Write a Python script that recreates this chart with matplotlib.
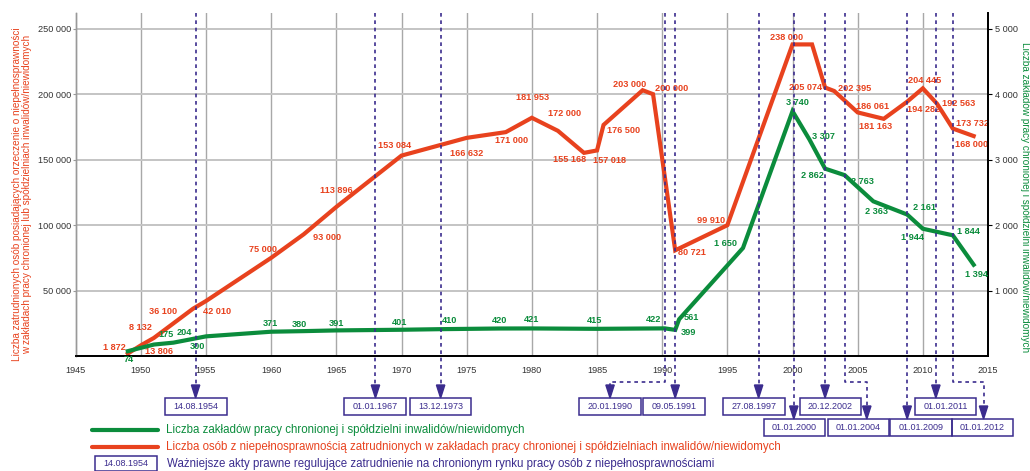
import matplotlib
matplotlib.use("Agg")
import matplotlib.pyplot as plt
from matplotlib.patches import Rectangle, Polygon
from matplotlib.lines import Line2D
from matplotlib.transforms import blended_transform_factory

plt.rcParams['font.family'] = ['Liberation Sans', 'DejaVu Sans']

RED = '#e8421e'
GREEN = '#0b8c3c'
BLUE = '#3b2c8e'
GRAY_TXT = '#333333'

# osoby zatrudnione (lewa os)
red_years = [1949, 1950, 1951, 1954, 1955, 1960, 1962.5, 1965, 1970, 1975, 1978, 1980, 1982,
             1984, 1985, 1985.5, 1988.5, 1989.3, 1991, 1995, 2000, 2001.5, 2002.5, 2003.2,
             2005, 2007, 2008.8, 2010, 2011.1, 2012.3, 2013.9]
red_values = [1872, 8132, 13806, 36100, 42010, 75000, 93000, 113896, 153084, 166632, 171000,
              181953, 172000, 155168, 157018, 176500, 203000, 200000, 80721, 99910, 238000,
              238000, 205074, 202395, 186061, 181163, 194282, 204445, 192563, 173732, 168000]
red_show = [True] * len(red_years)
red_show[21] = False

# zaklady pracy chronionej (prawa os)
green_years = [1949, 1951, 1952.5, 1955, 1960, 1962.5, 1965, 1970, 1973, 1977.5, 1980, 1985,
               1990.2, 1991, 1991.3, 1996.2, 2000, 2001.3, 2002.5, 2004, 2006.2, 2008.8,
               2010, 2012.3, 2013.9]
green_values = [74, 175, 204, 300, 371, 380, 391, 401, 410, 420, 421, 415, 422, 399, 561,
                1650, 3740, 3307, 2862, 2763, 2363, 2161, 1944, 1844, 1394]

# akty prawne
act_dates = ["14.08.1954", "01.01.1967", "13.12.1973", "20.01.1990", "09.05.1991",
             "27.08.1997", "01.01.2000", "20.12.2002", "01.01.2004", "01.01.2009",
             "01.01.2011", "01.01.2012"]
act_x = [1954.2, 1968.0, 1973.0, 1990.2, 1991.0, 1997.4, 2000.1, 2002.5, 2004.0, 2008.8,
         2011.0, 2012.35]

# layout of the labels / boxes (pixels)
red_off = [(-13, 6.5), (0, 17.5), (5.5, -13.5), (-29.5, -3), (11, -10.5), (-8, 8.5),
           (23, -3.5), (0, 16), (-7, 10.5), (0, -16), (6, -8), (1, 20), (7, 17.5),
           (-14.5, -7), (12, -10), (20, -6), (-13, 6), (19, 6), (17, -2), (-16.5, 5),
           (-6, 6.5), None, (-20, 0), (20, 3), (15, 6), (-8, -8), (16.5, -8), (1.5, 8),
           (21, 0), (20, 5), (-2.5, -8)]
green_off = [(0.5, -8), (12, 10), (11, 10), (-9, -10), (-1, 8), (-4, 7), (0, 7), (-1.5, 7.5),
             (9, 9), (0, 8), (0, 8.5), (-2, 8), (-11, 9), (13, -3), (12, 2), (-17, 4),
             (5, 9), (14, 3), (-13, -7), (17.5, -6), (3, -10), (17, 7), (-10, -8.5),
             (16, 4), (3, -10)]
act_arrow = [1954.2, 1968.0, 1973.0, 1986.0, 1991.0, 1997.4, 2000.1, 2002.5, 2005.7, 2008.8,
             2011.0, 2014.66]
act_box = [1954.22, 1967.97, 1973.0, 1986.0, 1990.9, 1997.06, 2000.14, 2002.9, 2005.05,
           2009.84, 2011.74, 2014.57]
act_row = [0, 0, 0, 0, 0, 0, 1, 0, 1, 1, 0, 1]


def fmt(v):
    return f"{int(v):,}".replace(",", " ")


W, H = 1030, 471
fig = plt.figure(figsize=(W / 100, H / 100), dpi=100, facecolor='w')
ax = fig.add_axes([75.7 / W, 1 - 356 / H, (988 - 75.7) / W, (356 - 13) / H])
ax2 = ax.twinx()

ax.set_xlim(1945, 2015)
ax.set_ylim(0, 262000)
ax2.set_ylim(0, 5240)

ax.set_xticks(range(1945, 2016, 5))
ax.set_yticks(range(50000, 250001, 50000))
ax.set_yticklabels([fmt(v) for v in range(50000, 250001, 50000)])
ax2.set_yticks(range(1000, 5001, 1000))
ax2.set_yticklabels([fmt(v) for v in range(1000, 5001, 1000)])

ax.tick_params(axis='x', length=0, pad=7, labelsize=6.6, labelcolor=GRAY_TXT)
ax.tick_params(axis='y', length=2, pad=1, labelsize=6.6, labelcolor=GRAY_TXT, color='#999999')
ax2.tick_params(axis='y', length=3, pad=2, labelsize=6.6, labelcolor=GRAY_TXT, color='black')

for a in (ax, ax2):
    a.spines['top'].set_visible(False)
    a.spines['left'].set_color('#999999')
    a.spines['left'].set_linewidth(1.0)
    a.spines['bottom'].set_color('black')
    a.spines['bottom'].set_linewidth(1.3)
    a.spines['right'].set_color('black')
    a.spines['right'].set_linewidth(1.3)

for x in range(1950, 2015, 5):
    ax.axvline(x, color='#a8a8a8', lw=1.0, zorder=0)
for y in range(50000, 250001, 50000):
    ax.axhline(y, color='#c4c4c4', lw=1.4, zorder=0)

# linie aktow prawnych
tr = blended_transform_factory(ax.transData, fig.transFigure)


def fy(px):
    return 1 - px / H


box_w = 61.5 / 13.03
for d, xl, xa, xb, row in zip(act_dates, act_x, act_arrow, act_box, act_row):
    tip = 398 if row == 0 else 419
    if abs(xa - xl) > 0.01:
        xs = [xl, xl, xa, xa]
        ys = [fy(13), fy(381.7), fy(381.7), fy(tip - 12)]
    else:
        xs = [xl, xl]
        ys = [fy(13), fy(tip - 12)]
    fig.add_artist(Line2D(xs, ys, transform=tr, color=BLUE, lw=1.2,
                          linestyle=(0, (2.2, 2.2)), zorder=2))
    fig.add_artist(Polygon([(xa - 0.32, fy(tip - 13)), (xa + 0.32, fy(tip - 13)), (xa, fy(tip))],
                           closed=True, transform=tr, color=BLUE, zorder=2))
    fig.add_artist(Rectangle((xb - box_w / 2, fy(tip + 17)), box_w, 17 / H, transform=tr,
                             fill=False, edgecolor=BLUE, lw=1.1))
    fig.text(xb, fy(tip + 8.5), d, transform=tr, ha='center', va='center',
             fontsize=6.5, color=BLUE)

# serie
ax.plot(red_years, red_values, color=RED, lw=3.0, solid_joinstyle='miter', zorder=4)
ax2.plot(green_years, green_values, color=GREEN, lw=3.0, solid_joinstyle='miter', zorder=4)

for x, v, off, show in zip(red_years, red_values, red_off, red_show):
    if show:
        ax.annotate(fmt(v), (x, v), xytext=off, textcoords='offset pixels', ha='center',
                    va='center', fontsize=6.6, fontweight='bold', color=RED, zorder=5)
for x, v, off in zip(green_years, green_values, green_off):
    ax2.annotate(fmt(v), (x, v), xytext=off, textcoords='offset pixels', ha='center',
                 va='center', fontsize=6.6, fontweight='bold', color=GREEN, zorder=5)

# opisy osi
fig.text(22 / W, fy(194),
         "Liczba zatrudnionych osób posiadających orzeczenie o niepełnosprawności\n"
         "w zakładach pracy chronionej lub spółdzielniach inwalidów/niewidomych",
         rotation=90, ha='center', va='center', multialignment='center',
         fontsize=7.2, color=RED, linespacing=1.1)
fig.text(1025 / W, fy(197),
         "Liczba zakładów pracy chronionej i spółdzielni inwalidów/niewidomych",
         rotation=270, ha='center', va='center', fontsize=7.2, color=GREEN)

# legenda
fig.add_artist(Line2D([91.7 / W, 158.3 / W], [fy(430), fy(430)], color=GREEN, lw=3,
                      solid_capstyle='round'))
fig.text(165.7 / W, fy(430), "Liczba zakładów pracy chronionej i spółdzielni inwalidów/niewidomych",
         ha='left', va='center', fontsize=8.3, color=GREEN)
fig.add_artist(Line2D([91.7 / W, 158.3 / W], [fy(446.7), fy(446.7)], color=RED, lw=3,
                      solid_capstyle='round'))
fig.text(165.7 / W, fy(446.7),
         "Liczba osób z niepełnosprawnością zatrudnionych w zakładach pracy chronionej "
         "i spółdzielniach inwalidów/niewidomych",
         ha='left', va='center', fontsize=8.3, color=RED)
fig.add_artist(Rectangle((95 / W, fy(471)), 61.7 / W, 15 / H, fill=False, edgecolor=BLUE, lw=1.1))
fig.text(125.8 / W, fy(463.5), "14.08.1954", ha='center', va='center', fontsize=6.5, color=BLUE)
fig.text(166.7 / W, fy(464.5),
         "Ważniejsze akty prawne regulujące zatrudnienie na chronionym rynku pracy osób "
         "z niepełnosprawnościami",
         ha='left', va='center', fontsize=8.3, color=BLUE)

fig.savefig("out.png", dpi=100, facecolor='w')
